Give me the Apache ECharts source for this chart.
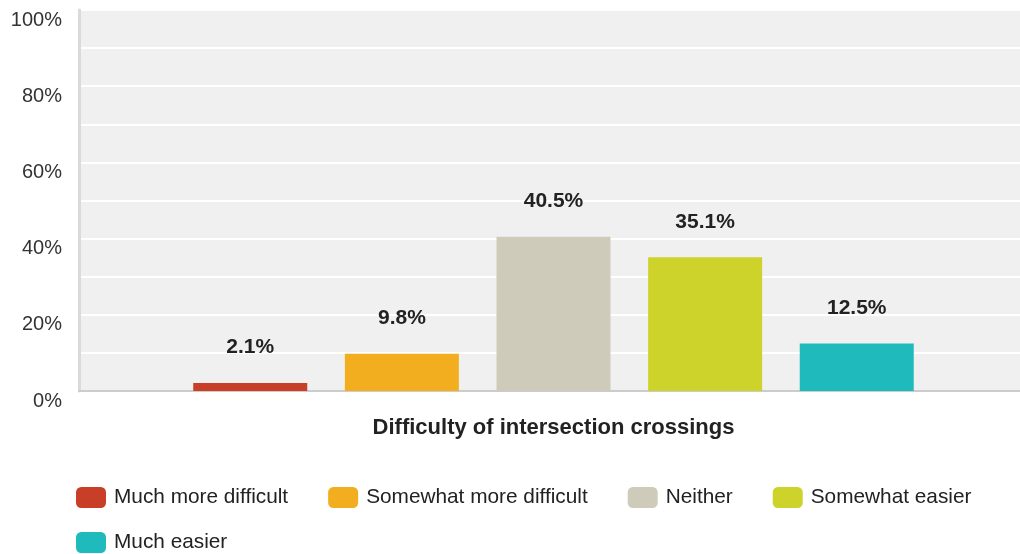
<!DOCTYPE html>
<html>
<head>
<meta charset="utf-8">
<script src="https://cdn.jsdelivr.net/npm/echarts@6/dist/echarts.min.js"></script>
<style>
  html, body { margin: 0; padding: 0; background: #ffffff; }
  #chart { width: 1020px; height: 554px; }
</style>
</head>
<body>
<div id="chart"></div>
<script>
// Survey question and answer breakdown (percent of respondents)
const categories = ['Difficulty of intersection crossings'];
const answers = ['Much more difficult', 'Somewhat more difficult', 'Neither', 'Somewhat easier', 'Much easier'];
const shares = [2.1, 9.8, 40.5, 35.1, 12.5];
const palette = ['#c83e27', '#f2ae1f', '#cecbba', '#cdd32b', '#1fbabb'];
const yTicks = [0, 20, 40, 60, 80, 100];

const FONT = '"Liberation Sans", Arial, sans-serif';

const series = answers.map((name, i) => ({
  name: name,
  type: 'bar',
  barWidth: 114,
  barGap: '33%',
  itemStyle: { color: palette[i] },
  label: {
    show: true,
    position: 'top',
    distance: 25,
    formatter: (p) => p.value.toFixed(1) + '%',
    fontFamily: FONT,
    fontSize: 21,
    fontWeight: 'bold',
    color: '#222222'
  },
  data: [shares[i]]
}));

const legendText = {
  fontFamily: FONT,
  fontSize: 20.8,
  color: '#222222',
  padding: [0, 0, 0, 3]
};

const legendBase = {
  orient: 'horizontal',
  left: 76,
  padding: 0,
  itemWidth: 30, itemHeight: 21, itemGap: 40,
  icon: 'roundRect',
  textStyle: legendText
};

const chart = echarts.init(document.getElementById('chart'), null, { renderer: 'canvas' });
chart.setOption({
  animation: false,
  backgroundColor: '#ffffff',
  grid: {
    left: 79, right: -8, top: 10, bottom: 163,
    outerBoundsMode: 'none',
    show: true, backgroundColor: '#f0f0f0', borderWidth: 0,
    containLabel: false
  },
  legend: [
    Object.assign({}, legendBase, { data: answers.slice(0, 4), top: 487 }),
    Object.assign({}, legendBase, { data: answers.slice(4), top: 532 })
  ],
  xAxis: {
    type: 'category',
    data: categories,
    axisLine: { show: true, lineStyle: { color: '#cccccc', width: 2 } },
    axisTick: { show: false },
    axisLabel: {
      margin: 26,
      fontFamily: FONT,
      fontSize: 22,
      fontWeight: 'bold',
      color: '#222222'
    },
    splitLine: { show: false }
  },
  yAxis: {
    type: 'value',
    min: yTicks[0],
    max: yTicks[yTicks.length - 1],
    interval: 20,
    axisLine: { show: true, lineStyle: { color: '#dadada', width: 3 } },
    axisTick: { show: false },
    axisLabel: {
      margin: 17,
      fontFamily: FONT,
      fontSize: 20,
      lineHeight: 20,
      verticalAlign: 'top',
      color: '#333333',
      formatter: (v) => v + '%'
    },
    splitLine: { show: true, lineStyle: { color: '#ffffff', width: 2 } },
    minorTick: { show: false, splitNumber: 2 },
    minorSplitLine: { show: true, lineStyle: { color: '#ffffff', width: 2 } }
  },
  series: series
});
</script>
</body>
</html>
